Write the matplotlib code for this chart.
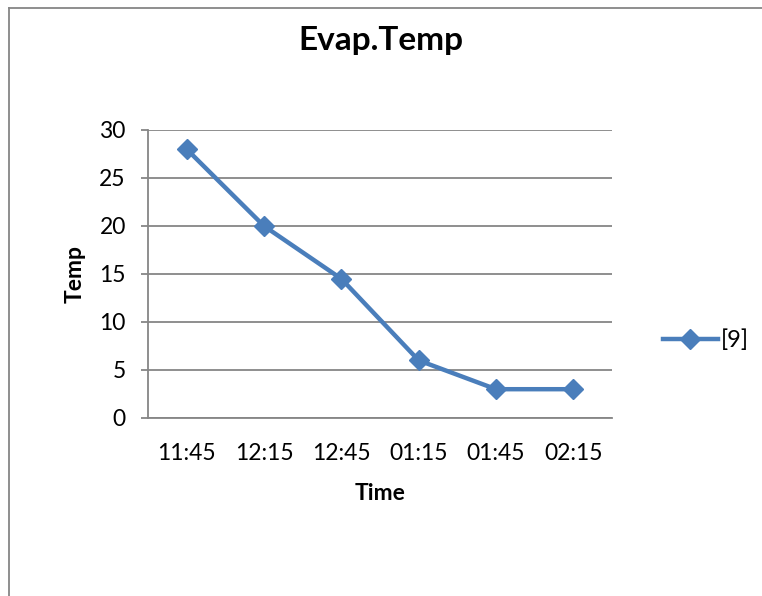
import matplotlib.pyplot as plt
from matplotlib.lines import Line2D

# данные графика
times = ['11:45', '12:15', '12:45', '01:15', '01:45', '02:15']
temps = [28, 20, 14.5, 6, 3, 3]
series_name = '[9]'

plt.rcParams['font.family'] = ['Lato', 'DejaVu Sans']

fig = plt.figure(figsize=(7.62, 5.96), dpi=100)
ax = fig.add_axes([148 / 762, 1 - 418 / 596, (612 - 148) / 762, (418 - 130) / 596])

x = range(len(times))
ax.plot(x, temps, color='#4A7EBB', linewidth=3.2, marker='D', markersize=10,
        label=series_name)

ax.set_xlim(-0.5, len(times) - 0.5)
ax.set_ylim(0, 30)
ax.set_yticks(range(0, 31, 5))
ax.set_xticks(list(x))
ax.set_xticklabels(times)

# сетка и оси в стиле Excel
ax.grid(axis='y', color='#868686', linewidth=1.3)
ax.set_axisbelow(True)
for side in ['top', 'right']:
    ax.spines[side].set_visible(False)
for side in ['left', 'bottom']:
    ax.spines[side].set_color('#868686')
    ax.spines[side].set_linewidth(1.3)
ax.tick_params(axis='y', length=5, color='#868686', width=1.3, labelsize=16.5, pad=11)
ax.tick_params(axis='x', length=0, labelsize=16.5, pad=18)

ax.set_title('Evap.Temp', fontsize=24, fontweight='bold',
             x=(381 - 148) / 464, y=1 + (130 - 49) / 288, va='center')
ax.set_xlabel('Time', fontsize=16.5, fontweight='bold', labelpad=14)
ax.set_ylabel('Temp', fontsize=16.5, fontweight='bold', labelpad=10)

ax.legend(loc='center left', bbox_to_anchor=(642 / 762, 1 - 340 / 596),
          bbox_transform=fig.transFigure, frameon=False, fontsize=17,
          handlelength=2.3, handletextpad=0.15)

# рамка диаграммы (видны только верх и лево)
fig.add_artist(Line2D([9 / 762, 1], [1 - 8 / 596, 1 - 8 / 596], color='#868686',
                      linewidth=1.3, transform=fig.transFigure))
fig.add_artist(Line2D([9 / 762, 9 / 762], [0, 1 - 8 / 596], color='#868686',
                      linewidth=1.3, transform=fig.transFigure))

fig.savefig('out.png', dpi=100)
